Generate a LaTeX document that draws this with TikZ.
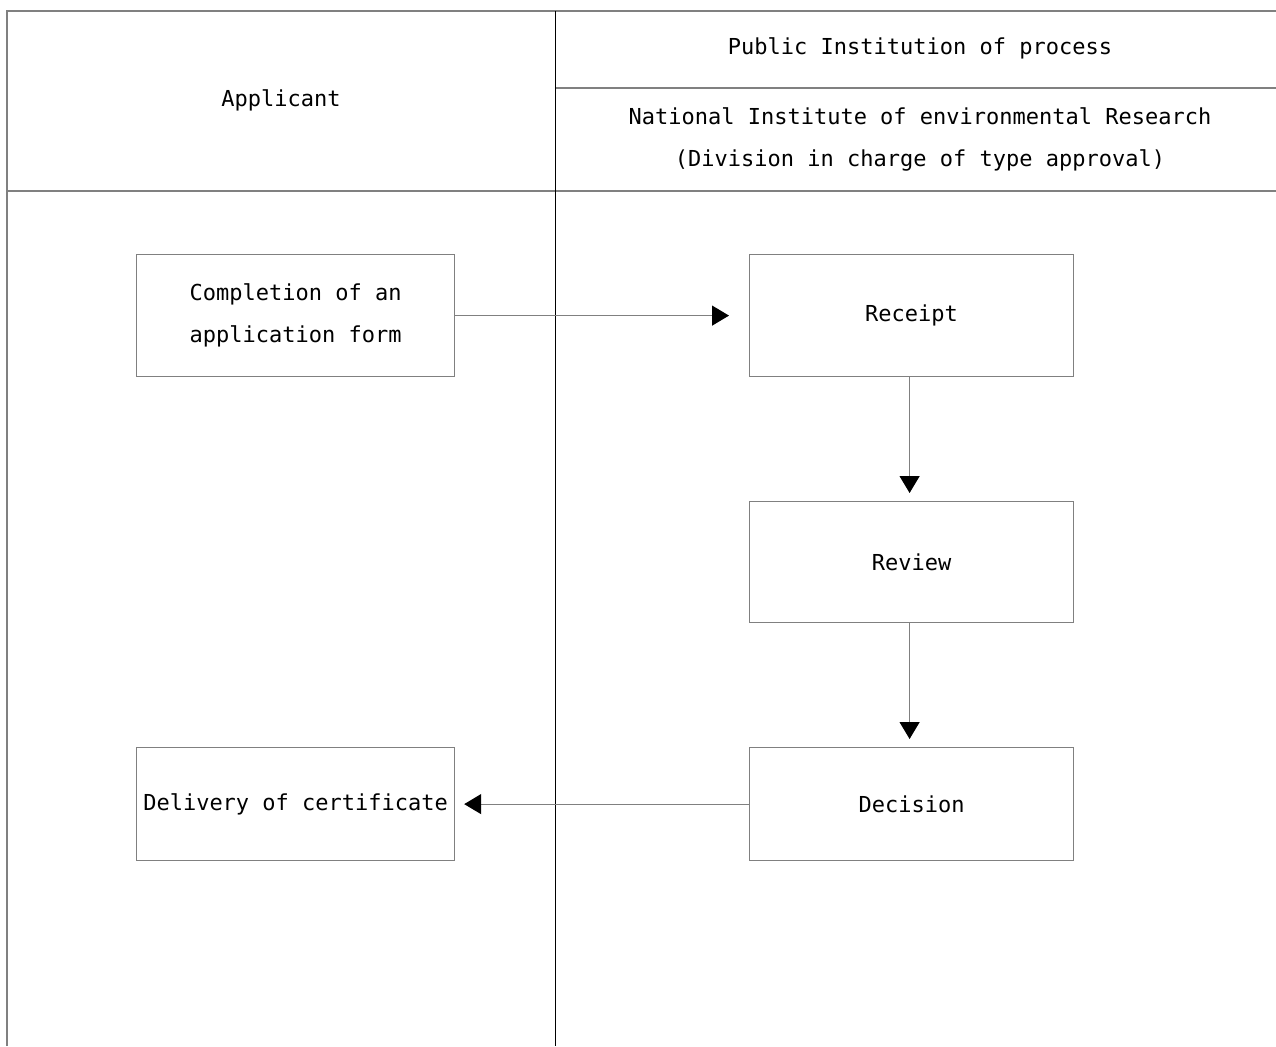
\documentclass[tikz,border=0pt]{standalone}
\usepackage{fontspec}
\setmonofont{DejaVu Sans Mono}
\usetikzlibrary{arrows.meta}
\definecolor{framegrey}{RGB}{128,128,128}
\begin{document}
\begin{tikzpicture}[x=0.5pt,y=-0.5pt,
  every node/.style={font=\ttfamily\fontsize{11}{21}\selectfont, inner sep=0pt},
  frameline/.style={draw=framegrey, line width=0.6pt},
  divider/.style={draw=black, line width=0.5pt},
  box/.style={draw=framegrey, line width=0.6pt, align=center, anchor=north west},
  label/.style={align=center},
  conn/.style={draw=framegrey, line width=0.6pt, -{Triangle[length=8.5pt,width=10pt,color=black]}}
]
\useasboundingbox (0,0) rectangle (1276,1046);
% frame
\draw[frameline] (7,1046) -- (7,11) -- (1276,11);
\draw[frameline] (7,191) -- (1276,191);
\draw[frameline] (555,88) -- (1276,88);
\draw[divider] (555,11) -- (555,1046);
% headers
\node[label] (hApp) at (281,100) {Applicant};
\node[label] (hPub) at (920,48) {Public Institution of process};
\node[label] (hNat) at (920,139) {National Institute of environmental Research\\(Division in charge of type approval)};
% boxes
\node[box, minimum width=159pt, minimum height=61pt] (comp) at (136,254) {Completion of an\\application form};
\node[box, minimum width=162pt, minimum height=61pt] (receipt) at (749,254) {Receipt};
\node[box, minimum width=162pt, minimum height=60.5pt] (review) at (749,501) {Review};
\node[box, minimum width=162pt, minimum height=56.5pt] (decision) at (749,747) {Decision};
\node[box, minimum width=159pt, minimum height=56.5pt] (delivery) at (136,747) {Delivery of certificate};
% connectors
\draw[conn, shorten >=10pt] (comp.east) -- (receipt.west);
\draw[conn, shorten >=4pt] ([xshift=-1pt]receipt.south) -- ([xshift=-1pt]review.north);
\draw[conn, shorten >=4pt] ([xshift=-1pt]review.south) -- ([xshift=-1pt]decision.north);
\draw[conn, shorten >=4.5pt] (decision.west) -- (delivery.east);
\end{tikzpicture}
\end{document}
